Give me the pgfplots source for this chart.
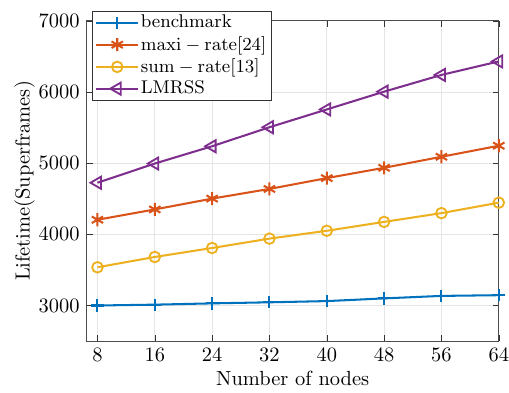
\documentclass[border=0pt]{standalone}
\usepackage{pgfplots}
\pgfplotsset{compat=1.18}
\definecolor{mblue}{rgb}{0,0.447,0.741}
\definecolor{morange}{rgb}{0.85,0.325,0.098}
\definecolor{myellow}{rgb}{0.929,0.694,0.125}
\definecolor{mpurple}{rgb}{0.494,0.184,0.556}
\begin{document}
\begin{tikzpicture}
\begin{axis}[
  scale only axis,
  width=201.5pt, height=156.6pt,
  xmin=6.5, xmax=64, ymin=2500, ymax=7000,
  xtick={8,16,24,32,40,48,56,64},
  ytick={3000,4000,5000,6000,7000},
  tick align=inside,
  major tick length=3pt,
  grid=major,
  grid style={gray!20, line width=0.4pt},
  axis line style={black!70, line width=0.5pt},
  tick style={black!80},
  xticklabel style={inner xsep=0pt},
  xlabel={Number of nodes},
  ylabel={Lifetime(Superframes)},
  xlabel style={yshift=2pt},
  ylabel style={yshift=-5pt},
  /pgf/number format/1000 sep={},
  legend cell align=left,
  legend style={at={(rel axis cs:0.0121,1.031)}, anchor=north west,
    draw=black!80, fill=white, line width=0.5pt, inner xsep=1.5pt, inner ysep=1pt,
    nodes={inner sep=0.8pt}, row sep=1pt, font=\fontsize{9}{10}\selectfont},
  legend image code/.code={\draw[mark repeat=2,mark phase=2] plot coordinates {(0cm,0cm)(0.36cm,0cm)(0.72cm,0cm)};},
  every axis plot/.append style={line width=1pt},
]
\addplot[mblue, mark=+, mark size=3pt, mark options={line width=1pt}] coordinates {
(8,3000)(16,3012)(24,3030)(32,3045)(40,3062)(48,3100)(56,3135)(64,3145)};
\addlegendentry{benchmark}
\addplot[morange, mark=asterisk, mark size=3.2pt, mark options={line width=1pt}] coordinates {
(8,4205)(16,4350)(24,4502)(32,4638)(40,4790)(48,4935)(56,5090)(64,5245)};
\addlegendentry{$\mathrm{maxi-rate[24]}$}
\addplot[myellow, mark=o, mark size=2.6pt, mark options={line width=0.9pt}] coordinates {
(8,3537)(16,3682)(24,3808)(32,3940)(40,4050)(48,4175)(56,4298)(64,4445)};
\addlegendentry{$\mathrm{sum-rate[13]}$}
\addplot[mpurple, mark=triangle, mark size=3.4pt, mark options={line width=0.9pt, rotate=90}] coordinates {
(8,4725)(16,4995)(24,5238)(32,5505)(40,5755)(48,6005)(56,6240)(64,6430)};
\addlegendentry{LMRSS}
\end{axis}
\path ([shift={(-42.4pt,-24.4pt)}]current axis.south west) rectangle ([shift={(5pt,10.2pt)}]current axis.north east);
\end{tikzpicture}
\end{document}
